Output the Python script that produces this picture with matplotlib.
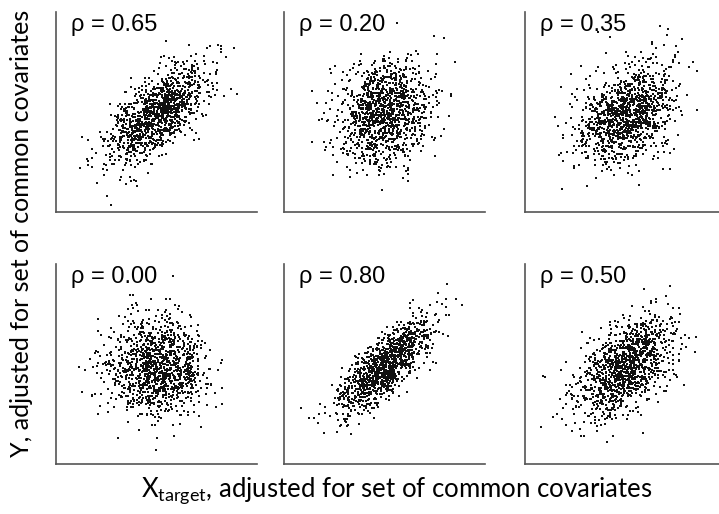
import matplotlib
matplotlib.use("Agg")
import matplotlib.pyplot as plt
import numpy as np

# correlation shown in each panel, row by row
rhos = [0.65, 0.20, 0.35, 0.00, 0.80, 0.50]
rho_labels = ["0.65", "0.20", "0.35", "0.00", "0.80", "0.50"]
n_points = 1200
seeds = [11, 12, 13, 14, 15, 16]

plt.rcParams['mathtext.default'] = 'regular'

fig = plt.figure(figsize=(7.19, 5.14), dpi=100)

# panel boxes in figure fractions (left, bottom, width, height)
lefts = [0.078, 0.395, 0.730]
bottoms = [0.5875, 0.0973]
w = 0.2796
h = 0.390

for i, rho in enumerate(rhos):
    r, c = divmod(i, 3)
    ax = fig.add_axes([lefts[c], bottoms[r], w, h])
    # simulated standard bivariate normal with the panel's correlation
    rng = np.random.default_rng(seeds[i])
    z = rng.standard_normal((n_points, 2))
    x = z[:, 0]
    y = rho * z[:, 0] + np.sqrt(1 - rho ** 2) * z[:, 1]
    ax.scatter(x, y, s=3.6, marker='s', color='#111111', linewidths=0)
    ax.set_xlim(-4.1, 4.1)
    ax.set_ylim(-4.0, 4.2)
    for side in ['top', 'right']:
        ax.spines[side].set_visible(False)
    for side in ['left', 'bottom']:
        ax.spines[side].set_color('#555555')
        ax.spines[side].set_linewidth(1.2)
    ax.set_xticks([])
    ax.set_yticks([])
    ax.text(0.075, 0.99, "ρ = " + rho_labels[i], transform=ax.transAxes,
            ha='left', va='top', fontsize=17, family='Liberation Sans')

fig.text(0.552, 0.046, "X$_{target}$, adjusted for set of common covariates",
         ha='center', va='center', fontsize=18.5, family='Lato')
fig.text(0.030, 0.545, "Y, adjusted for set of common covariates",
         ha='center', va='center', rotation=90, fontsize=18, family='Lato')

fig.savefig("out.png", dpi=100)
